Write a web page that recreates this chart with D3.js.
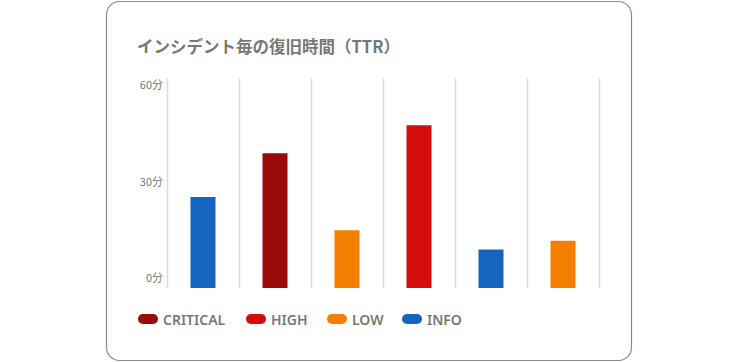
<!DOCTYPE html>
<html>
<head>
<meta charset="utf-8">
<script src="https://cdn.jsdelivr.net/npm/d3@7"></script>
<style>
  body { margin: 0; background: #fff; }
  svg { display: block; }
</style>
</head>
<body>
<svg id="drawing_region"></svg>
<script>
// data
const incidents = ['#1', '#2', '#3', '#4', '#5', '#6'];
const severities = ['INFO', 'CRITICAL', 'LOW', 'HIGH', 'INFO', 'LOW'];
const ttrMinutes = [26, 38.5, 16.5, 46.5, 11, 13.5];
const levels = ['CRITICAL', 'HIGH', 'LOW', 'INFO'];
const levelColors = ['#9b0a0a', '#d50d0d', '#f57f00', '#1565c0'];
const yTicks = [0, 30, 60];

const W = 738, H = 362;
const svg = d3.select('#drawing_region')
    .attr('width', W)
    .attr('height', H);

// card
svg.append('rect')
    .attr('x', 106.5).attr('y', 1.5)
    .attr('width', 525).attr('height', 359)
    .attr('rx', 13)
    .attr('fill', '#fff')
    .attr('stroke', '#8a8a8a')
    .attr('stroke-width', 1.2);

svg.append('text')
    .attr('x', 137).attr('y', 53)
    .attr('font-family', '"Noto Sans CJK JP", sans-serif')
    .attr('font-weight', 700)
    .attr('font-size', 16.5)
    .attr('fill', '#777')
    .text('インシデント毎の復旧時間（TTR）');

const x = d3.scaleBand()
    .domain(incidents)
    .range([167, 599])
    .paddingInner(0).paddingOuter(0);

const y = d3.scaleLinear()
    .domain([0, 60])
    .range([288, 78]);

// labels sit inside the plot range
const yLabel = d3.scaleLinear()
    .domain([0, 60])
    .range([282, 89]);

const color = d3.scaleOrdinal().domain(levels).range(levelColors);

// vertical grid lines at band edges
const edges = incidents.map(d => x(d)).concat([x.range()[1]]);
svg.append('g').selectAll('line')
    .data(edges)
    .enter().append('line')
    .attr('x1', d => d + 0.5).attr('x2', d => d + 0.5)
    .attr('y1', y(60)).attr('y2', y(0))
    .attr('stroke', '#dcdcdc')
    .attr('stroke-width', 1.5);

// y labels
svg.append('g').selectAll('text')
    .data(yTicks)
    .enter().append('text')
    .attr('x', 163)
    .attr('y', d => yLabel(d))
    .attr('text-anchor', 'end')
    .attr('font-family', '"Noto Sans CJK JP", sans-serif')
    .attr('font-size', 11)
    .attr('fill', '#777')
    .text(d => d + '分');

// bars
const barW = 25;
svg.append('g').selectAll('rect')
    .data(ttrMinutes)
    .enter().append('rect')
    .attr('x', (d, i) => x(incidents[i]) + x.bandwidth() / 2 - barW / 2)
    .attr('y', d => y(d))
    .attr('width', barW)
    .attr('height', d => y(0) - y(d))
    .attr('fill', (d, i) => color(severities[i]));

// legend
const legendX = [138, 246, 327, 402];
const legend = svg.append('g').selectAll('g')
    .data(levels)
    .enter().append('g')
    .attr('transform', (d, i) => `translate(${legendX[i]}, 319)`);

legend.append('rect')
    .attr('x', 0).attr('y', -5)
    .attr('width', 20).attr('height', 10)
    .attr('rx', 5)
    .attr('fill', d => color(d));

legend.append('text')
    .attr('x', 25).attr('y', 5.5)
    .attr('font-family', '"Noto Sans", sans-serif')
    .attr('font-weight', 600)
    .attr('font-size', 14)
    .attr('fill', '#777')
    .text(d => d);
</script>
</body>
</html>
